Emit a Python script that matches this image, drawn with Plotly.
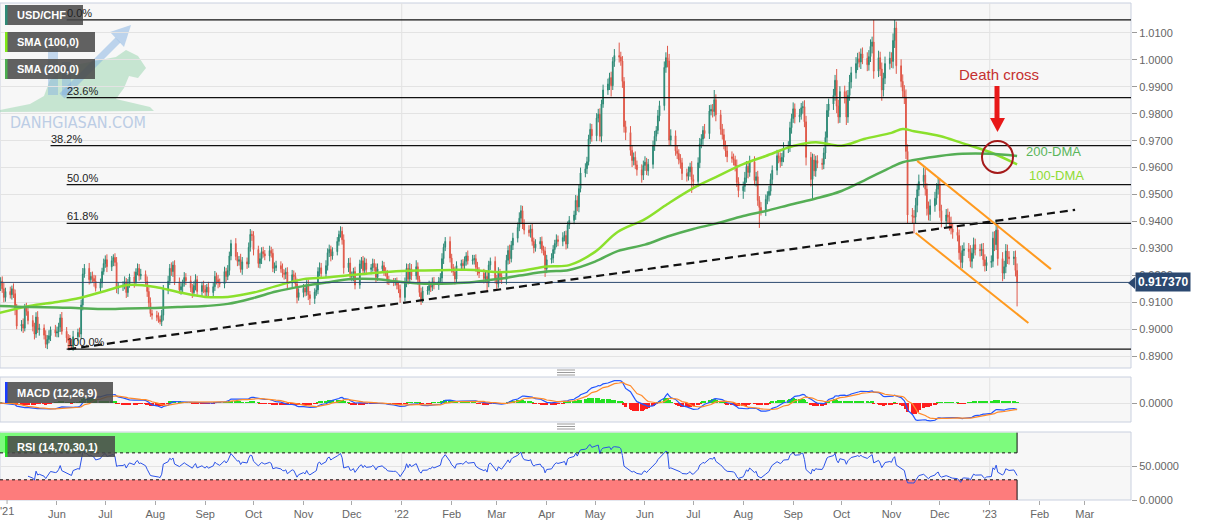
import numpy as np
import pandas as pd
import plotly.graph_objects as go

# ---------------- DATA (prices in pips = price x 10000) ----------------
first_open = 9150
closes_pips = [
    9162, 9178, 9150, 9118, 9140,
    9128, 9150, 9132, 9072, 9012,
    9018, 9004, 9080, 9066, 9032,
    9010, 8982, 9045, 8998, 9004,
    8978, 8944, 8962, 8976, 8998,
    8986, 8990, 9008, 9042, 8992,
    8968, 8958, 8946, 8936, 8972,
    8988, 8982, 9090, 9205, 9226,
    9184, 9196, 9188, 9178, 9152,
    9172, 9214, 9244, 9258, 9232,
    9254, 9266, 9248, 9152, 9160,
    9162, 9176, 9136, 9168, 9194,
    9176, 9212, 9226, 9198, 9204,
    9178, 9140, 9098, 9058, 9052,
    9044, 9036, 9028, 9052, 9148,
    9178, 9226, 9214, 9238, 9176,
    9146, 9158, 9170, 9192, 9180,
    9154, 9136, 9162, 9184, 9140,
    9162, 9148, 9138, 9156, 9136,
    9158, 9196, 9184, 9172, 9168,
    9214, 9196, 9218, 9272, 9318,
    9270, 9252, 9258, 9222, 9250,
    9242, 9304, 9352, 9348, 9296,
    9244, 9262, 9288, 9280, 9272,
    9292, 9282, 9226, 9228, 9236,
    9224, 9208, 9204, 9212, 9172,
    9202, 9196, 9168, 9118, 9136,
    9152, 9138, 9164, 9128, 9114,
    9138, 9146, 9214, 9228, 9206,
    9236, 9284, 9296, 9272, 9288,
    9326, 9352, 9364, 9332, 9228,
    9246, 9196, 9198, 9214, 9164,
    9242, 9254, 9218, 9246, 9222,
    9228, 9244, 9230, 9192, 9224,
    9236, 9214, 9208, 9184, 9178,
    9174, 9176, 9164, 9148, 9118,
    9172, 9226, 9186, 9224, 9198,
    9232, 9184, 9136, 9112, 9142,
    9144, 9162, 9156, 9176, 9164,
    9178, 9190, 9262, 9304, 9326,
    9264, 9228, 9212, 9186, 9236,
    9244, 9236, 9252, 9272, 9254,
    9258, 9262, 9230, 9214, 9208,
    9188, 9196, 9172, 9238, 9252,
    9186, 9168, 9210, 9196, 9184,
    9256, 9292, 9262, 9312, 9338,
    9378, 9412, 9440, 9392, 9368,
    9358, 9372, 9326, 9302, 9316,
    9326, 9296, 9290, 9224, 9258,
    9264, 9296, 9318, 9332, 9326,
    9340, 9348, 9316, 9386, 9404,
    9424, 9478, 9454, 9522, 9580,
    9596, 9622, 9706, 9742, 9718,
    9784, 9798, 9716, 9836, 9888,
    9910, 9934, 9904, 9994, 10016,
    10010, 9996, 9920, 9752, 9730,
    9664, 9626, 9638, 9610, 9592,
    9572, 9608, 9620, 9588, 9612,
    9682, 9716, 9738, 9792, 9830,
    9972, 10008, 9996, 9702, 9718,
    9662, 9652, 9628, 9618, 9578,
    9568, 9584, 9602, 9556, 9548,
    9618, 9688, 9706, 9738, 9726,
    9810, 9816, 9808, 9852, 9796,
    9742, 9722, 9684, 9662, 9640,
    9634, 9628, 9608, 9546, 9514,
    9530, 9562, 9604, 9582, 9622,
    9552, 9566, 9478, 9452, 9440,
    9482, 9496, 9512, 9556, 9590,
    9644, 9636, 9622, 9638, 9672,
    9678, 9748, 9782, 9818, 9788,
    9796, 9822, 9826, 9770, 9638,
    9556, 9628, 9588, 9626, 9616,
    9612, 9654, 9712, 9812, 9836,
    9868, 9924, 9828, 9788, 9882,
    9862, 9788, 9868, 9918, 9952,
    9986, 10004, 9992, 10022, 10006,
    9982, 10012, 10050, 10066, 9958,
    10008, 9966, 9888, 9932, 9986,
    10006, 9994, 10072, 10118, 9978,
    9920, 9884, 9862, 9660, 9424,
    9418, 9416, 9460, 9518, 9548,
    9572, 9520, 9448, 9426, 9458,
    9486, 9520, 9536, 9440, 9402,
    9424, 9416, 9392, 9372, 9360,
    9348, 9284, 9248, 9292, 9298,
    9288, 9252, 9282, 9314, 9296,
    9292, 9296, 9258, 9236, 9248,
    9252, 9338, 9314, 9368, 9262,
    9208, 9232, 9290, 9268, 9262,
    9268, 9218, 9173.7,
]
wick_up_pips = [
    20, 15, 18, 22, 14,  18, 12, 20, 15, 22,  16, 22, 14, 18, 20,  20, 14, 18, 22, 16,
    14, 18, 16, 20, 12,  18, 20, 16, 14, 22,  16, 14, 20, 18, 22,  14, 18, 20, 22, 16,
    20, 16, 18, 14, 22,  16, 14, 18, 16, 20,  18, 12, 16, 20, 14,  16, 20, 14, 18, 12,
    20, 14, 18, 16, 20,  14, 18, 16, 20, 14,  16, 18, 14, 20, 16,  20, 16, 22, 14, 18,
    16, 18, 14, 20, 16,  18, 14, 16, 20, 14,  14, 18, 16, 12, 20,  16, 20, 14, 18, 16,
    18, 14, 20, 16, 14,  20, 16, 14, 22, 18,  16, 18, 20, 14, 16,  14, 20, 16, 18, 14,
    18, 14, 16, 20, 18,  16, 20, 14, 16, 18,  18, 16, 14, 20, 16,  16, 14, 18, 20, 14,
    14, 18, 16, 20, 18,  20, 16, 18, 14, 16,  16, 14, 18, 16, 20,  18, 20, 16, 14, 18,
    16, 14, 18, 20, 16,  14, 18, 16, 14, 20,  18, 14, 16, 12, 14,  12, 14, 16, 14, 18,
    20, 18, 16, 22, 18,  24, 16, 14, 18, 16,  16, 18, 14, 16, 18,  16, 18, 20, 14, 16,
    18, 16, 14, 20, 16,  14, 16, 18, 14, 20,  18, 14, 16, 20, 16,  16, 18, 20, 16, 14,
    18, 16, 20, 14, 16,  20, 18, 22, 16, 20,  18, 22, 20, 18, 16,  18, 16, 20, 14, 18,
    16, 18, 14, 16, 18,  18, 16, 14, 20, 16,  20, 16, 18, 14, 16,  16, 20, 18, 16, 20,
    20, 18, 16, 22, 20,  18, 20, 22, 16, 20,  20, 18, 22, 16, 24,  48, 20, 18, 16, 22,
    24, 20, 18, 22, 16,  20, 18, 22, 16, 20,  18, 20, 16, 22, 18,  22, 20, 44, 26, 24,
    20, 18, 16, 22, 18,  18, 20, 16, 22, 18,  20, 22, 18, 16, 24,  22, 18, 20, 36, 20,
    18, 20, 22, 16, 18,  20, 18, 16, 22, 18,  18, 22, 20, 16, 22,  20, 18, 22, 16, 20,
    18, 16, 20, 22, 18,  22, 18, 20, 16, 22,  20, 22, 18, 24, 20,  22, 18, 20, 24, 22,
    20, 24, 22, 18, 20,  18, 20, 22, 24, 20,  24, 20, 42, 24, 20,  22, 24, 20, 26, 22,
    24, 22, 26, 20, 24,  22, 24, 26, 20, 82,  26, 22, 24, 20, 26,  24, 22, 26, 30, 24,
    24, 26, 22, 28, 26,  26, 24, 28, 22, 26,  28, 24, 22, 26, 24,  24, 22, 26, 24, 22,
    22, 24, 20, 26, 22,  24, 22, 26, 20, 24,  22, 24, 20, 26, 22,  20, 22, 24, 20, 22,
    22, 24, 26, 38, 24,  24, 22, 26, 24, 22,  22, 24, 26,
]
wick_dn_pips = [
    12, 20, 15, 18, 16,  14, 18, 16, 20, 12,  20, 18, 12, 16, 14,  18, 20, 14, 12, 22,
    16, 14, 18, 14, 20,  14, 16, 20, 18, 12,  18, 32, 14, 10, 16,  16, 12, 18, 20, 14,
    18, 14, 16, 20, 12,  14, 18, 12, 16, 20,  16, 20, 14, 18, 22,  18, 14, 20, 16, 14,
    22, 16, 12, 18, 14,  16, 20, 18, 12, 16,  14, 12, 10, 16, 20,  18, 14, 16, 20, 12,
    14, 18, 20, 12, 16,  16, 20, 14, 18, 12,  18, 14, 20, 16, 14,  14, 16, 18, 20, 12,
    16, 20, 14, 18, 16,  14, 18, 16, 12, 20,  18, 14, 16, 20, 22,  16, 18, 20, 14, 16,
    20, 16, 14, 18, 12,  14, 16, 20, 18, 22,  16, 18, 14, 22, 12,  18, 16, 14, 20, 24,
    20, 14, 16, 18, 14,  14, 18, 16, 20, 14,  14, 16, 12, 18, 22,  16, 14, 18, 20, 16,
    14, 18, 16, 12, 20,  18, 14, 16, 20, 12,  14, 16, 12, 18, 14,  14, 12, 16, 14, 20,
    14, 16, 20, 18, 16,  14, 18, 16, 22, 14,  14, 16, 18, 14, 16,  18, 14, 16, 20, 14,
    16, 18, 14, 20, 16,  16, 14, 18, 16, 14,  14, 18, 16, 14, 18,  18, 14, 30, 16, 18,
    16, 18, 14, 20, 16,  18, 16, 20, 14, 18,  16, 14, 18, 20, 16,  14, 18, 16, 20, 14,
    18, 14, 16, 30, 16,  14, 18, 16, 14, 18,  18, 14, 20, 16, 14,  14, 18, 16, 20, 14,
    16, 20, 14, 18, 22,  20, 16, 18, 22, 14,  18, 22, 40, 16, 20,  20, 18, 24, 22, 28,
    20, 24, 18, 16, 22,  28, 18, 20, 16, 18,  16, 20, 18, 14, 20,  18, 20, 24, 22, 20,
    18, 20, 16, 22, 24,  20, 16, 18, 50, 22,  18, 20, 16, 22, 18,  20, 16, 22, 18, 24,
    20, 18, 16, 22, 20,  16, 20, 22, 18, 24,  30, 20, 18, 22, 16,  18, 22, 20, 76, 18,
    20, 18, 22, 16, 18,  18, 20, 22, 16, 18,  18, 20, 22, 16, 24,  20, 18, 22, 20, 30,
    26, 76, 20, 22, 18,  20, 18, 22, 20, 24,  22, 20, 26, 24, 22,  24, 30, 22, 20, 24,
    22, 24, 20, 26, 22,  24, 22, 20, 26, 28,  22, 26, 40, 24, 22,  22, 24, 26, 28, 30,
    22, 24, 26, 28, 30,  24, 60, 22, 26, 24,  22, 24, 26, 22, 24,  22, 24, 20, 26, 24,
    24, 22, 26, 20, 24,  22, 26, 24, 22, 20,  24, 22, 26, 20, 22,  22, 20, 24, 22, 20,
    20, 22, 24, 20, 26,  30, 22, 24, 26, 22,  24, 22, 89,
]

sma_dates = [
    "2021-04-26", "2021-05-15", "2021-06-01", "2021-06-15", "2021-07-01", "2021-07-15",
    "2021-08-01", "2021-08-15", "2021-09-01", "2021-09-15", "2021-10-01", "2021-10-15",
    "2021-11-01", "2021-11-15", "2021-12-01", "2021-12-15", "2022-01-01", "2022-01-15",
    "2022-02-01", "2022-02-15", "2022-03-01", "2022-03-15", "2022-04-01", "2022-04-15",
    "2022-05-01", "2022-05-15", "2022-06-01", "2022-06-15", "2022-07-01", "2022-07-15",
    "2022-08-01", "2022-08-15", "2022-09-01", "2022-09-15", "2022-10-01", "2022-10-15",
    "2022-11-01", "2022-11-08", "2022-11-15", "2022-12-01", "2022-12-15", "2023-01-01",
    "2023-01-18",
]
sma100_pips = [
    9060, 9086, 9101, 9116, 9142, 9164, 9157, 9138, 9120, 9120, 9136, 9160,
    9186, 9192, 9201, 9209, 9216, 9218, 9220, 9220, 9212, 9216, 9233, 9238,
    9287, 9361, 9409, 9465, 9524, 9565, 9613, 9643, 9680, 9694, 9681, 9706,
    9729, 9743, 9735, 9717, 9691, 9658, 9612,
]
sma200_pips = [
    9086, 9082, 9081, 9078, 9075, 9077, 9079, 9082, 9086, 9094, 9116, 9140,
    9160, 9173, 9186, 9186, 9175, 9169, 9170, 9175, 9186, 9199, 9214, 9220,
    9251, 9290, 9314, 9344, 9372, 9392, 9420, 9439, 9465, 9485, 9513, 9552,
    9602, 9620, 9628, 9643, 9651, 9651, 9643,
]

fib_high = 1.0148
fib_low = 0.8926
fib_pcts = [0.0, 23.6, 38.2, 50.0, 61.8, 100.0]
fib_starts = ["2021-06-07", "2021-06-07", "2021-05-28", "2021-06-07", "2021-06-07", "2021-06-07"]

trend_dates = ["2021-06-08", "2023-02-23"]
trend_prices = [0.8926, 0.9443]
chan_up_dates = ["2022-11-17", "2023-02-08"]
chan_up_prices = [0.9625, 0.9223]
chan_lo_dates = ["2022-11-16", "2023-01-25"]
chan_lo_prices = [0.9357, 0.9023]

month_ticks = pd.date_range("2021-06-01", "2023-03-01", freq="MS")
month_labels = ["Jun", "Jul", "Aug", "Sep", "Oct", "Nov", "Dec",
                "'22", "Feb", "Mar", "Apr", "May", "Jun", "Jul", "Aug", "Sep", "Oct", "Nov", "Dec",
                "'23", "Feb", "Mar"]
first_tick_label = "'21"
price_ticks = [0.89, 0.90, 0.91, 0.92, 0.93, 0.94, 0.95, 0.96, 0.97, 0.98, 0.99, 1.00, 1.01]

# ---------------- derived series ----------------
closes = np.array(closes_pips, dtype=float) / 10000.0
opens = np.concatenate([[first_open], np.array(closes_pips[:-1], dtype=float)]) / 10000.0
highs = np.maximum(opens, closes) + np.array(wick_up_pips) / 10000.0
lows = np.minimum(opens, closes) - np.array(wick_dn_pips) / 10000.0
dates = pd.bdate_range("2021-04-26", periods=len(closes))
last_price = closes[-1]

cs = pd.Series(closes)
ema12 = cs.ewm(span=12, adjust=False).mean()
ema26 = cs.ewm(span=26, adjust=False).mean()
macd = ema12 - ema26
signal = macd.ewm(span=9, adjust=False).mean()
hist = macd - signal

d = cs.diff().fillna(0)
ag = d.clip(lower=0).ewm(alpha=1 / 14, adjust=False).mean()
al = (-d.clip(upper=0)).ewm(alpha=1 / 14, adjust=False).mean()
rsi = 100 - 100 / (1 + ag / al)
rsi.iloc[:14] = np.nan

# ---------------- layout helpers ----------------
X0 = pd.Timestamp("2021-04-26 15:00")
X1 = pd.Timestamp("2023-03-29 17:00")
W, H = 1207, 526
PL, PR, PT, PB = 0, 1131, 3, 500


def pxp(x):
    return (x - PL) / (PR - PL)


def pyp(y):
    return (PB - y) / (PB - PT)


def poly(points):
    return "M " + " L ".join(f"{pxp(a):.5f},{pyp(b):.5f}" for a, b in points) + " Z"


MAIN = (3, 368)
MACD = (377, 422)
RSI = (432, 500)
dom = lambda p: [pyp(p[1]), pyp(p[0])]

fig = go.Figure()

fig.add_trace(go.Candlestick(
    x=dates, open=opens, high=highs, low=lows, close=closes,
    increasing=dict(line=dict(color="#2E8A76", width=1), fillcolor="#2E8A76"),
    decreasing=dict(line=dict(color="#E0594A", width=1), fillcolor="#E0594A"),
    whiskerwidth=0, showlegend=False, xaxis="x", yaxis="y"))

fig.add_trace(go.Scatter(x=pd.to_datetime(sma_dates), y=np.array(sma100_pips) / 10000.0,
                         mode="lines", line=dict(color="#8BE02C", width=2.5, shape="spline"),
                         showlegend=False, xaxis="x", yaxis="y"))
fig.add_trace(go.Scatter(x=pd.to_datetime(sma_dates), y=np.array(sma200_pips) / 10000.0,
                         mode="lines", line=dict(color="#55AE55", width=2.5, shape="spline"),
                         showlegend=False, xaxis="x", yaxis="y"))

# MACD
fig.add_trace(go.Bar(x=dates, y=hist, width=2.2 * 86400000,
                     marker=dict(color=["#22E022" if v >= 0 else "#FF1E1E" for v in hist], line=dict(width=0)),
                     showlegend=False, xaxis="x", yaxis="y2"))
fig.add_trace(go.Scatter(x=dates, y=macd, mode="lines", line=dict(color="#2255FF", width=1.2),
                         showlegend=False, xaxis="x", yaxis="y2"))
fig.add_trace(go.Scatter(x=dates, y=signal, mode="lines", line=dict(color="#FF8A2A", width=1.2),
                         showlegend=False, xaxis="x", yaxis="y2"))
# RSI
fig.add_trace(go.Scatter(x=dates, y=rsi, mode="lines", line=dict(color="#2A52E8", width=1),
                         showlegend=False, xaxis="x", yaxis="y3"))

mx = max(macd.max(), signal.max(), hist.max())
mn = min(macd.min(), signal.min(), hist.min())
s = max(mx / 25.0, -mn / 18.0)
macd_range = [-19 * s, 26 * s]

shapes = []
annotations = []

# panel backgrounds
for p in (MAIN, MACD, RSI):
    shapes.append(dict(type="rect", xref="paper", yref="paper", x0=0, x1=1, y0=pyp(p[1]), y1=pyp(p[0]),
                       fillcolor="#F7F7F7", line=dict(color="#C9D0DF", width=1), layer="below"))

# watermark logo (behind the chart)
bull = [(0, 110), (30, 104), (44, 96), (50, 80), (62, 70), (80, 64), (100, 60), (116, 57), (126, 50),
        (138, 56), (146, 68), (138, 78), (129, 76), (124, 88), (116, 99), (150, 107), (154, 111), (0, 112)]
shapes.append(dict(type="path", xref="paper", yref="paper", path=poly(bull),
                   fillcolor="rgba(150,212,172,0.5)", line=dict(width=0), layer="below"))
for (a0, b0, a1, b1) in [(48, 48, 58, 95), (62, 62, 71, 95)]:
    shapes.append(dict(type="rect", xref="paper", yref="paper", x0=pxp(a0), x1=pxp(a1), y0=pyp(b1), y1=pyp(b0),
                       fillcolor="rgba(130,175,225,0.45)", line=dict(width=0), layer="below"))
shapes.append(dict(type="line", xref="paper", yref="paper", x0=pxp(62), y0=pyp(96), x1=pxp(118), y1=pyp(40),
                   line=dict(color="rgba(130,175,225,0.5)", width=7), layer="below"))
shapes.append(dict(type="path", xref="paper", yref="paper", path=poly([(131, 25), (110, 32), (124, 47)]),
                   fillcolor="rgba(130,175,225,0.5)", line=dict(width=0), layer="below"))

# year gridlines
for yd in ["2022-01-01", "2023-01-01"]:
    for p in (MAIN, MACD, RSI):
        shapes.append(dict(type="line", xref="x", yref="paper", x0=yd, x1=yd, y0=pyp(p[1]), y1=pyp(p[0]),
                           line=dict(color="#E2E2E2", width=1), layer="below"))

# RSI zones
shapes.append(dict(type="rect", xref="x", yref="y3", x0=X0, x1=dates[-1], y0=70, y1=100,
                   fillcolor="#7DFB7D", line=dict(width=0), layer="below"))
shapes.append(dict(type="rect", xref="x", yref="y3", x0=X0, x1=dates[-1], y0=0, y1=30,
                   fillcolor="#FD7C7C", line=dict(width=0), layer="below"))
for lv in (70, 30):
    shapes.append(dict(type="line", xref="x", yref="y3", x0=X0, x1=dates[-1], y0=lv, y1=lv,
                       line=dict(color="#111", width=1, dash="dot")))
shapes.append(dict(type="line", xref="x", yref="y3", x0=dates[-1], x1=dates[-1], y0=70, y1=100,
                   line=dict(color="#111", width=1)))
shapes.append(dict(type="line", xref="x", yref="y3", x0=dates[-1], x1=dates[-1], y0=0, y1=30,
                   line=dict(color="#111", width=1)))

# drag handles between panels
for yy in (370, 372.5, 375, 424, 426.5, 429):
    shapes.append(dict(type="line", xref="paper", yref="paper", x0=pxp(557), x1=pxp(575), y0=pyp(yy), y1=pyp(yy),
                       line=dict(color="#9A9A9A", width=1)))

# Fibonacci levels
for pct, st in zip(fib_pcts, fib_starts):
    lv = fib_high - (fib_high - fib_low) * pct / 100.0
    shapes.append(dict(type="line", xref="x", yref="y", x0=st, x1=X1, y0=lv, y1=lv,
                       line=dict(color="#111", width=1.3)))
    annotations.append(dict(x=st, y=lv, xref="x", yref="y", text=f"{pct:.1f}%", showarrow=False,
                            xanchor="left", yanchor="bottom", yshift=-1, xshift=-2,
                            font=dict(size=11, color="#222")))

# current price line
shapes.append(dict(type="line", xref="x", yref="y", x0=X0, x1=X1, y0=last_price, y1=last_price,
                   line=dict(color="#2C4A70", width=1)))

# trend line and channel
shapes.append(dict(type="line", xref="x", yref="y", x0=trend_dates[0], x1=trend_dates[1],
                   y0=trend_prices[0], y1=trend_prices[1], line=dict(color="#111", width=2.2, dash="8px,5px")))
for dd, pp in ((chan_up_dates, chan_up_prices), (chan_lo_dates, chan_lo_prices)):
    shapes.append(dict(type="line", xref="x", yref="y", x0=dd[0], x1=dd[1], y0=pp[0], y1=pp[1],
                       line=dict(color="#FF9A1F", width=2)))

# death cross arrow + circle
shapes.append(dict(type="line", xref="paper", yref="paper", x0=pxp(997), x1=pxp(997), y0=pyp(86), y1=pyp(119),
                   line=dict(color="#E81818", width=5)))
shapes.append(dict(type="path", xref="paper", yref="paper", path=poly([(990, 118), (1005, 118), (997.5, 132)]),
                   fillcolor="#E81818", line=dict(width=0)))
shapes.append(dict(type="circle", xref="paper", yref="paper", x0=pxp(982), x1=pxp(1013), y0=pyp(173), y1=pyp(141),
                   line=dict(color="#A51A1A", width=2)))

# price badge pointer
shapes.append(dict(type="path", xref="paper", yref="paper", path=poly([(1128, 283), (1135, 277), (1135, 289)]),
                   fillcolor="#2B4870", line=dict(width=0)))

# legend boxes
boxes = [((5, 5, 83, 25), "#2E8A76", "USD/CHF"),
         ((5, 32, 95, 52), "#7FE817", "SMA (100,0)"),
         ((5, 59, 95, 79), "#4CAF50", "SMA (200,0)"),
         ((5, 382, 113, 403), "#1A3CFF", "MACD (12,26,9)"),
         ((5, 436, 115, 457), "#22DD22", "RSI (14,70,30,1)")]
for (a0, b0, a1, b1), col, txt in boxes:
    shapes.append(dict(type="rect", xref="paper", yref="paper", x0=pxp(a0), x1=pxp(a1), y0=pyp(b1), y1=pyp(b0),
                       fillcolor="rgba(72,72,72,0.86)", line=dict(width=0)))
    shapes.append(dict(type="rect", xref="paper", yref="paper", x0=pxp(a0), x1=pxp(a0 + 2.5), y0=pyp(b1), y1=pyp(b0),
                       fillcolor=col, line=dict(width=0)))
    annotations.append(dict(x=pxp(15), y=pyp((b0 + b1) / 2), xref="paper", yref="paper", text=f"<b>{txt}</b>",
                            showarrow=False, xanchor="left", yanchor="middle",
                            font=dict(size=11, color="white")))

annotations.append(dict(x=pxp(8), y=pyp(122), xref="paper", yref="paper", text="DANHGIASAN.COM",
                        showarrow=False, xanchor="left", yanchor="middle",
                        font=dict(size=16, color="#BCCDE5", family="DejaVu Sans Condensed, DejaVu Sans")))
annotations.append(dict(x=pxp(999), y=pyp(75), xref="paper", yref="paper", text="Death cross",
                        showarrow=False, xanchor="center", yanchor="middle", font=dict(size=15, color="#C53030")))
annotations.append(dict(x=pxp(1024), y=pyp(152), xref="paper", yref="paper", text="200-DMA",
                        showarrow=False, xanchor="left", yanchor="middle", font=dict(size=13, color="#5AB55A")))
annotations.append(dict(x=pxp(1027), y=pyp(175), xref="paper", yref="paper", text="100-DMA",
                        showarrow=False, xanchor="left", yanchor="middle", font=dict(size=13, color="#8EDB34")))
annotations.append(dict(x=1, y=last_price, xref="paper", yref="y", text=f"<b>{last_price:.6f}</b>",
                        showarrow=False, xanchor="left", yanchor="middle", xshift=4,
                        bgcolor="#2B4870", borderpad=2, font=dict(size=12, color="white")))
# first x tick label (sits at the left edge)
annotations.append(dict(x=0, y=pyp(511), xref="paper", yref="paper", text=first_tick_label,
                        showarrow=False, xanchor="left", yanchor="middle", xshift=-2,
                        font=dict(size=11, color="#666")))
shapes.append(dict(type="line", xref="x", yref="paper", x0="2021-05-01", x1="2021-05-01",
                   y0=pyp(500), y1=pyp(504), line=dict(color="#AAA", width=1)))

axis_common = dict(side="right", anchor="x", ticks="outside", ticklen=5, tickcolor="#9A9A9A",
                   tickfont=dict(size=11, color="#666"), gridcolor="#E3E3E3", zeroline=False,
                   showline=False, fixedrange=True)

fig.update_layout(
    width=W, height=H,
    margin=dict(l=PL, r=W - PR, t=PT, b=H - PB),
    paper_bgcolor="white", plot_bgcolor="white",
    font=dict(family="Liberation Sans, Arial, sans-serif", size=11, color="#444"),
    showlegend=False, bargap=0,
    xaxis=dict(domain=[0, 1], anchor="y3", type="date", range=[X0, X1], rangeslider=dict(visible=False),
               tickvals=month_ticks, ticktext=month_labels, ticks="outside", ticklen=4, tickcolor="#AAA",
               tickfont=dict(size=11, color="#666"), showgrid=False, zeroline=False, showline=False),
    yaxis=dict(domain=dom(MAIN), range=[0.8856, 1.0211], tickvals=price_ticks,
               ticktext=[f"{v:.4f}" for v in price_ticks], **axis_common),
    yaxis2=dict(domain=dom(MACD), range=macd_range, tickvals=[0], ticktext=["0.0000"], **axis_common),
    yaxis3=dict(domain=dom(RSI), range=[0, 101], tickvals=[0, 50], ticktext=["0.0000", "50.0000"], **axis_common),
    shapes=shapes, annotations=annotations,
)

fig.write_html("out.html")
